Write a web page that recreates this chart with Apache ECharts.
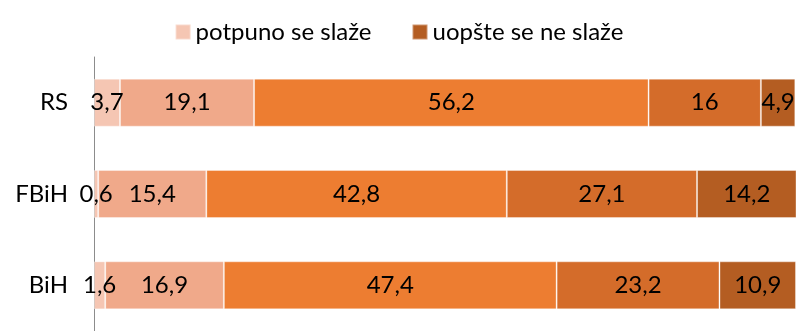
<!DOCTYPE html>
<html>
<head>
<meta charset="utf-8">
<script src="https://cdn.jsdelivr.net/npm/echarts@6/dist/echarts.min.js"></script>
<style>
  html, body { margin: 0; padding: 0; background: #fff; }
  #chart { width: 798px; height: 331px; }
</style>
</head>
<body>
<div id="chart"></div>
<script>
// Regions, top to bottom
const regions = ['RS', 'FBiH', 'BiH'];

// Answer shares (%) per region
const seriesNames = [
  'potpuno se slaže',
  'uglavnom se slaže',
  'niti se slaže niti ne slaže',
  'uglavnom se ne slaže',
  'uopšte se ne slaže'
];
const fullyAgree      = [3.7, 0.6, 1.6];
const mostlyAgree     = [19.1, 15.4, 16.9];
const neutral         = [56.2, 42.8, 47.4];
const mostlyDisagree  = [16, 27.1, 23.2];
const fullyDisagree   = [4.9, 14.2, 10.9];

const values = [fullyAgree, mostlyAgree, neutral, mostlyDisagree, fullyDisagree];
const colors = ['#F5C6B3', '#F0A98A', '#ED7D31', '#D46C2A', '#B45D22'];

const FONT = 'Lato, "Open Sans", sans-serif';

const chart = echarts.init(document.getElementById('chart'), null, { renderer: 'canvas' });

chart.setOption({
  animation: false,
  textStyle: { fontFamily: FONT },
  legend: {
    data: [seriesNames[0], seriesNames[4]],
    top: 15,
    left: 'center',
    itemWidth: 15,
    itemHeight: 15,
    itemGap: 40,
    icon: 'rect',
    textStyle: { fontSize: 24, color: '#000', fontFamily: FONT }
  },
  grid: { left: 94, right: 2, top: 57, height: 280 },
  xAxis: {
    type: 'value',
    min: 0,
    max: 100,
    show: false
  },
  yAxis: {
    type: 'category',
    data: regions,
    inverse: true,
    axisLine: { show: true, lineStyle: { color: '#8c8c8c', width: 1 } },
    axisTick: { show: false },
    axisLabel: { fontSize: 24, color: '#000', margin: 26, fontFamily: FONT }
  },
  series: values.map((arr, i) => ({
    name: seriesNames[i],
    type: 'bar',
    stack: 'total',
    barWidth: 48,
    data: arr,
    itemStyle: { color: colors[i], borderColor: 'rgba(255,255,255,0.35)', borderWidth: 1 },
    label: {
      show: true,
      position: 'inside',
      color: '#000',
      fontSize: 24,
      fontFamily: FONT,
      formatter: p => String(p.value).replace('.', ',')
    }
  }))
});
</script>
</body>
</html>
